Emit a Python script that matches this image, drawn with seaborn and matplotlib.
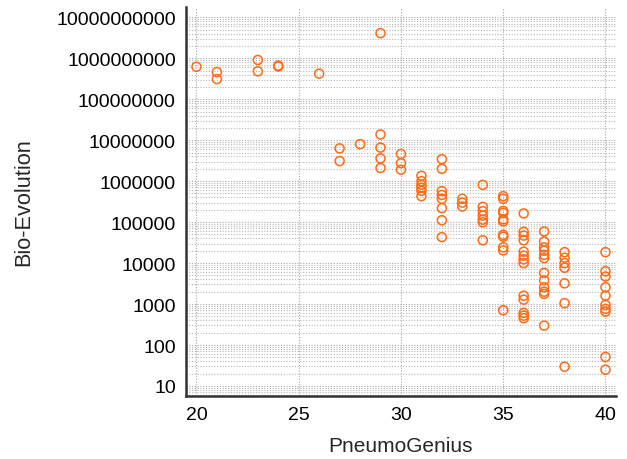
import matplotlib
matplotlib.use("Agg")
import matplotlib.pyplot as plt
import matplotlib.ticker as mticker
import pandas as pd
import seaborn as sns

# values
pneumo_genius = (
    [20] + [21] * 2 + [23] * 2 + [24] * 2 + [26] + [27] * 2 + [28]
    + [29] * 5 + [30] * 3 + [31] * 6 + [32] * 8 + [33] * 3 + [34] * 7
    + [35] * 11 + [36] * 13 + [37] * 12 + [38] * 7 + [40] * 10
)
bio_evolution = [
    6.2e8,
    4.6e8, 3.1e8,
    9.1e8, 4.8e8,
    6.6e8, 6.3e8,
    4.2e8,
    6.3e6, 3.1e6,
    8.0e6,
    4.1e9, 1.38e7, 6.6e6, 3.6e6, 2.1e6,
    4.6e6, 2.75e6, 1.9e6,
    1.35e6, 1.0e6, 8.1e5, 6.9e5, 5.8e5, 4.3e5,
    3.44e6, 2.0e6, 5.7e5, 4.6e5, 3.7e5, 2.19e5, 1.11e5, 4.3e4,
    3.7e5, 3.0e5, 2.4e5,
    8.1e5, 2.36e5, 1.85e5, 1.44e5, 1.15e5, 9.9e4, 3.6e4,
    4.3e5, 3.7e5, 1.88e5, 1.68e5, 1.17e5, 1.04e5, 4.9e4, 4.4e4, 2.42e4, 2.04e4, 706,
    1.63e5, 5.8e4, 4.7e4, 3.6e4, 1.9e4, 1.52e4, 1.23e4, 1.0e4, 1600, 1280, 607, 521, 451,
    5.9e4, 3.35e4, 2.42e4, 2.0e4, 1.58e4, 1.32e4, 5750, 3800, 2570, 2000, 1770, 297,
    1.85e4, 1.35e4, 1.0e4, 7700, 3200, 1050, 29.6,
    1.85e4, 6300, 4700, 2570, 1600, 950, 760, 653, 51, 25,
]
x_ticks = [20, 25, 30, 35, 40]
y_ticks = [10 ** k for k in range(1, 11)]

sns.set_style("white")
plt.rcParams["font.family"] = ["Liberation Sans", "DejaVu Sans"]

df = pd.DataFrame({"PneumoGenius": pneumo_genius, "Bio-Evolution": bio_evolution})

fig = plt.figure(figsize=(6.27, 4.6), dpi=100)
ax = fig.add_axes([0.297, 0.137, 0.685, 0.846])

sns.scatterplot(data=df, x="PneumoGenius", y="Bio-Evolution", ax=ax,
                marker="o", s=42, facecolor="none", edgecolor="#ff6a13",
                linewidth=1.1, zorder=3)

ax.set_yscale("log")
ax.set_xlim(19.5, 40.5)
ax.set_ylim(5.7, 1.8e10)
ax.set_xticks(x_ticks)
ax.yaxis.set_major_locator(mticker.FixedLocator(y_ticks))
ax.yaxis.set_minor_locator(mticker.LogLocator(base=10, subs=range(2, 10), numticks=50))
ax.yaxis.set_major_formatter(mticker.FuncFormatter(lambda v, p: f"{int(round(v))}"))
ax.yaxis.set_minor_formatter(mticker.NullFormatter())

ax.grid(True, which="major", axis="both", color="#a8a8a8", linestyle=(0, (1, 1.5)), linewidth=0.8)
ax.grid(True, which="minor", axis="y", color="#b8b8b8", linestyle=(0, (1, 1.5)), linewidth=0.8)
ax.set_axisbelow(True)

for side in ["top", "right"]:
    ax.spines[side].set_visible(False)
for side in ["left", "bottom"]:
    ax.spines[side].set_color("#333333")
    ax.spines[side].set_linewidth(1.8)

ax.tick_params(which="major", direction="in", length=7.5, width=1.8, color="#333333",
               labelsize=14, pad=7.5, labelcolor="black")
ax.tick_params(which="minor", direction="in", length=4, width=1, color="#555555")
ax.tick_params(axis="x", which="minor", bottom=False)

ax.set_xlabel("PneumoGenius", fontsize=15, labelpad=9)
ax.set_ylabel("Bio-Evolution", fontsize=15.7, labelpad=16)

fig.savefig("out.png", dpi=100)
plt.close(fig)
